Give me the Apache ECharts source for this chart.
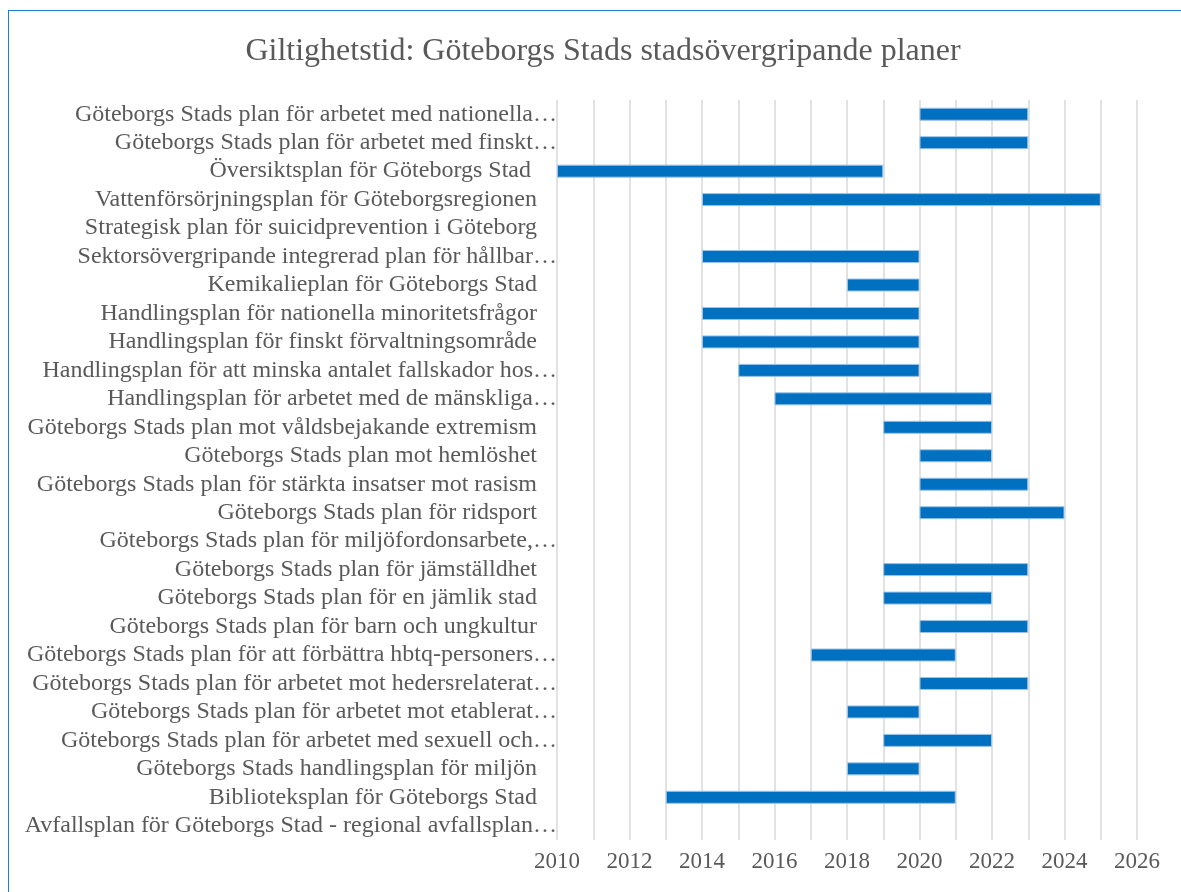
<!DOCTYPE html>
<html>
<head>
<meta charset="utf-8">
<script src="https://cdn.jsdelivr.net/npm/echarts@6/dist/echarts.min.js"></script>
<style>
  html, body { margin: 0; padding: 0; background: #fff; }
  #chart { position: absolute; left: 0; top: 0; width: 1181px; height: 892px; }
  #frame {
    position: absolute; left: 8px; top: 10px; width: 1180px; height: 900px;
    border: 1.5px solid #1f7fcf; pointer-events: none;
  }
</style>
</head>
<body>
<div id="chart"></div>
<div id="frame"></div>
<script>
// planer, uppifrån och ned
const plans = [
  'Göteborgs Stads plan för arbetet med nationella…',
  'Göteborgs Stads plan för arbetet med finskt…',
  'Översiktsplan för Göteborgs Stad ',
  'Vattenförsörjningsplan för Göteborgsregionen',
  'Strategisk plan för suicidprevention i Göteborg',
  'Sektorsövergripande integrerad plan för hållbar…',
  'Kemikalieplan för Göteborgs Stad',
  'Handlingsplan för nationella minoritetsfrågor',
  'Handlingsplan för finskt förvaltningsområde',
  'Handlingsplan för att minska antalet fallskador hos…',
  'Handlingsplan för arbetet med de mänskliga…',
  'Göteborgs Stads plan mot våldsbejakande extremism',
  'Göteborgs Stads plan mot hemlöshet',
  'Göteborgs Stads plan för stärkta insatser mot rasism',
  'Göteborgs Stads plan för ridsport',
  'Göteborgs Stads plan för miljöfordonsarbete,…',
  'Göteborgs Stads plan för jämställdhet',
  'Göteborgs Stads plan för en jämlik stad',
  'Göteborgs Stads plan för barn och ungkultur',
  'Göteborgs Stads plan för att förbättra hbtq-personers…',
  'Göteborgs Stads plan för arbetet mot hedersrelaterat…',
  'Göteborgs Stads plan för arbetet mot etablerat…',
  'Göteborgs Stads plan för arbetet med sexuell och…',
  'Göteborgs Stads handlingsplan för miljön',
  'Biblioteksplan för Göteborgs Stad',
  'Avfallsplan för Göteborgs Stad - regional avfallsplan…'
]

// startår och slutår (null = ingen giltighetstid)
const startYear = [2020, 2020, 2010, 2014, null, 2014, 2018, 2014, 2014, 2015, 2016, 2019, 2020,
  2020, 2020, null, 2019, 2019, 2020, 2017, 2020, 2018, 2019, 2018, 2013, null]
const endYear = [2023, 2023, 2019, 2025, null, 2020, 2020, 2020, 2020, 2020, 2022, 2022, 2022,
  2023, 2024, null, 2023, 2022, 2023, 2021, 2023, 2020, 2022, 2020, 2021, null]

const yearMin = 2010
const yearMax = 2026

const duration = startYear.map((s, i) => (s === null ? null : endYear[i] - s))

const myChart = echarts.init(document.getElementById('chart'))

const option = {
  animation: false,
  title: {
    text: 'Giltighetstid: Göteborgs Stads stadsövergripande planer',
    left: 598,
    textAlign: 'center',
    top: 31,
    textStyle: {
      fontFamily: 'Liberation Serif',
      fontWeight: 'normal',
      fontSize: 32,
      color: '#595959'
    }
  },
  grid: {
    left: 557,
    right: 44,
    top: 100,
    bottom: 52
  },
  xAxis: {
    type: 'value',
    min: yearMin,
    max: yearMax,
    interval: 1,
    axisLine: { show: false },
    axisTick: { show: false },
    axisLabel: {
      margin: 10,
      fontFamily: 'Liberation Serif',
      fontSize: 23,
      color: '#595959',
      formatter: (v) => (v % 2 === 0 ? String(v) : '')
    },
    splitLine: { lineStyle: { color: '#d9d9d9', width: 1.5 } }
  },
  yAxis: {
    type: 'category',
    data: plans,
    inverse: true,
    axisLine: { show: false },
    axisTick: { show: false },
    axisLabel: {
      interval: 0,
      hideOverlap: false,
      margin: 0,
      fontFamily: 'Liberation Serif',
      fontSize: 24,
      color: '#595959',
      formatter: (v) => (v.endsWith('…') ? '{t|' + v + '}' : '{n|' + v + '}'),
      rich: {
        t: { fontFamily: 'Liberation Serif', fontSize: 24, color: '#595959' },
        n: { fontFamily: 'Liberation Serif', fontSize: 24, color: '#595959', padding: [0, 20, 0, 0] }
      }
    }
  },
  series: [
    {
      name: 'start',
      type: 'bar',
      stack: 'tid',
      data: startYear,
      barWidth: 13,
      itemStyle: { color: 'transparent' },
      silent: true
    },
    {
      name: 'tid',
      type: 'bar',
      stack: 'tid',
      data: duration,
      barWidth: 13,
      itemStyle: {
        color: '#0070c0',
        borderColor: '#9dc3e6',
        borderWidth: 1
      }
    }
  ]
}

myChart.setOption(option)
</script>
</body>
</html>
